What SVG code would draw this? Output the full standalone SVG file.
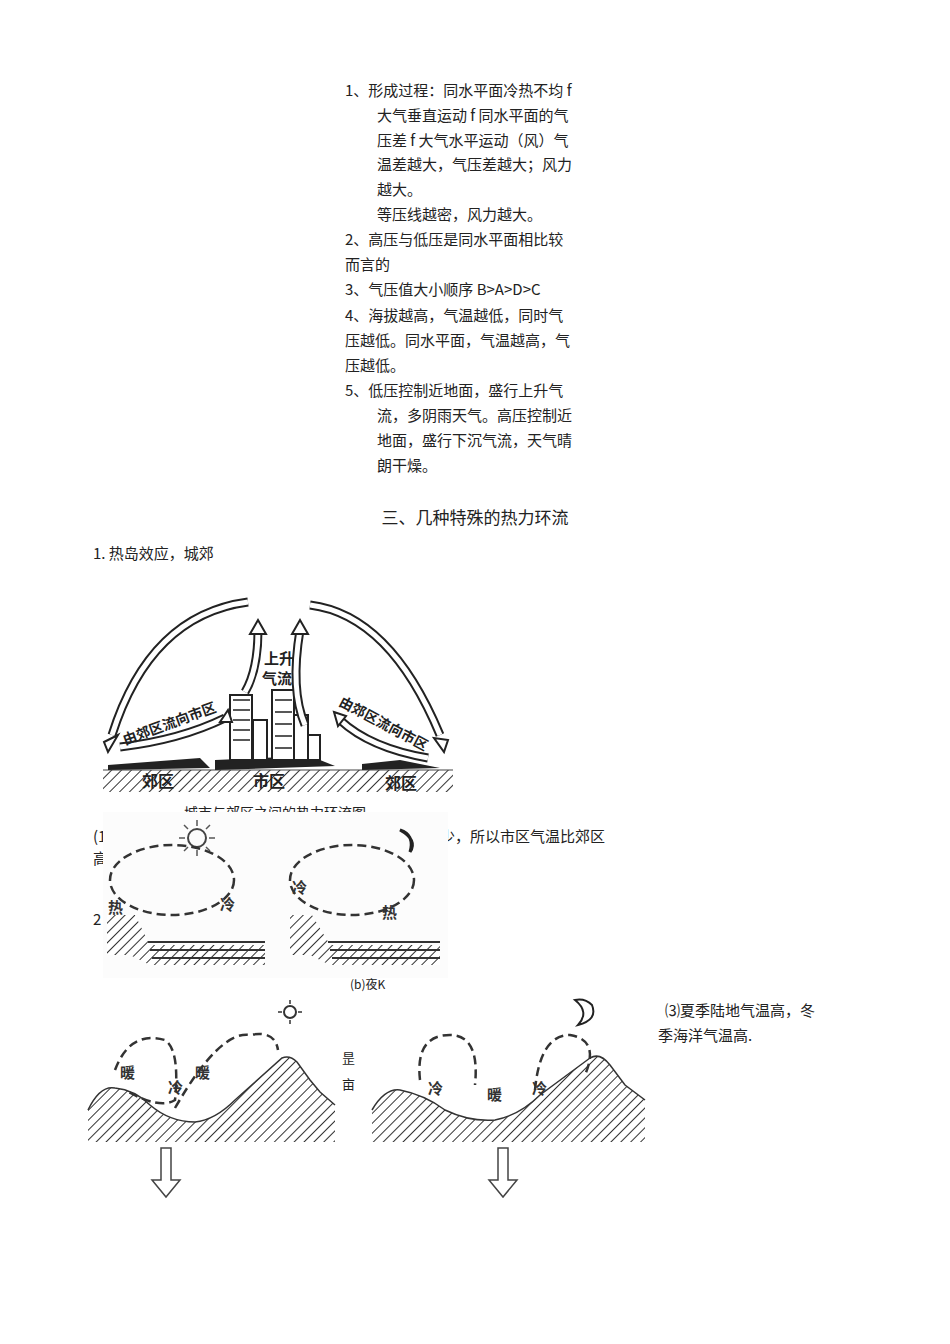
<svg xmlns="http://www.w3.org/2000/svg" width="950" height="1344" viewBox="0 0 950 1344">
<defs>
<style>
text{font-family:"Noto Sans CJK SC","Liberation Serif",serif;fill:#222}
.t{font-size:15px}
.lb{font-size:15px;font-weight:bold;fill:#333}
.ho{fill:none;stroke:#222;stroke-width:9;stroke-linecap:butt}
.hi{fill:none;stroke:#fff;stroke-width:5}
.d{fill:none;stroke:#333;stroke-width:2.5;stroke-dasharray:9 5}
.gnd{stroke:#444;stroke-width:1.2}
</style>
<pattern id="h" width="7" height="7" patternUnits="userSpaceOnUse" patternTransform="rotate(45)"><rect width="7" height="7" fill="#fff"/><line x1="0" y1="0" x2="0" y2="7" stroke="#333" stroke-width="2"/></pattern>
</defs>
<rect width="950" height="1344" fill="#fff"/>
<g id="text">
<text class="t" x="345" y="96">1、形成过程：同水平面冷热不均 f</text>
<text class="t" x="377" y="121">大气垂直运动 f 同水平面的气</text>
<text class="t" x="377" y="146">压差 f 大气水平运动（风）气</text>
<text class="t" x="377" y="170">温差越大，气压差越大；风力</text>
<text class="t" x="377" y="195">越大。</text>
<text class="t" x="377" y="220">等压线越密，风力越大。</text>
<text class="t" x="345" y="245">2、高压与低压是同水平面相比较</text>
<text class="t" x="345" y="270">而言的</text>
<text class="t" x="345" y="295">3、气压值大小顺序 B&gt;A&gt;D&gt;C</text>
<text class="t" x="345" y="321">4、海拔越高，气温越低，同时气</text>
<text class="t" x="345" y="346">压越低。同水平面，气温越高，气</text>
<text class="t" x="345" y="371">压越低。</text>
<text class="t" x="345" y="396">5、低压控制近地面，盛行上升气</text>
<text class="t" x="377" y="421">流，多阴雨天气。高压控制近</text>
<text class="t" x="377" y="446">地面，盛行下沉气流，天气晴</text>
<text class="t" x="377" y="471">朗干燥。</text>
<text x="475" y="524" text-anchor="middle" font-size="17">三、几种特殊的热力环流</text>
<text class="t" x="93" y="559">1. 热岛效应，城郊</text>
<text x="275" y="818" text-anchor="middle" font-size="14" fill="#555">城市与郊区之间的热力环流图</text>
<text class="t" x="93" y="842">(1</text>
<text class="t" x="93" y="864">高</text>
<text class="t" x="425" y="842">大少，所以市区气温比郊区</text>
<text class="t" x="93" y="925">2</text>
<text x="350" y="989" font-size="12" fill="#555">(b)夜K</text>
<text class="t" x="665" y="1016">⑶夏季陆地气温高，冬</text>
<text class="t" x="658" y="1041">季海洋气温高.</text>
<text x="342" y="1063" font-size="13">昰</text>
<text x="342" y="1089" font-size="13">亩</text>
</g>
<g id="heat-island">
<rect x="103" y="770" width="350" height="22" fill="url(#h)"/>
<line class="gnd" x1="103" y1="770" x2="453" y2="770"/>
<path d="M108,765 L200,758 L210,768 L108,770z M215,760 L310,756 L335,766 L215,770z M362,764 L400,760 L440,768 L362,770z" fill="#222"/>
<g fill="#fff" stroke="#222" stroke-width="2">
<rect x="230" y="695" width="22" height="65"/><rect x="253" y="720" width="14" height="40"/>
<rect x="272" y="690" width="22" height="70"/><rect x="294" y="715" width="14" height="45"/><rect x="308" y="735" width="12" height="25"/>
</g>
<path d="M233,700 H250 M233,710 H250 M233,720 H250 M233,730 H250 M233,740 H250 M275,700 H292 M275,712 H292 M275,724 H292 M275,736 H292 M275,748 H292" stroke="#222" stroke-width="1.5"/>
<g id="arrows">
<path class="ho" d="M112,735 Q150,615 248,602"/><path class="hi" d="M112,735 Q150,615 248,602"/>
<path class="ho" d="M310,605 Q390,615 440,735"/><path class="hi" d="M310,605 Q390,615 440,735"/>
<path class="ho" d="M120,747 Q180,740 225,718"/><path class="hi" d="M120,747 Q180,740 225,718"/>
<path class="ho" d="M428,758 Q370,748 340,720"/><path class="hi" d="M428,758 Q370,748 340,720"/>
<path class="ho" d="M245,692 Q258,670 258,630"/><path class="hi" d="M245,692 Q258,670 258,630"/>
<path class="ho" d="M305,725 Q290,690 300,630"/><path class="hi" d="M305,725 Q290,690 300,630"/>
<g fill="#fff" stroke="#222" stroke-width="2">
<path d="M104,742 L118,735 L108,752z"/><path d="M448,740 L434,738 L444,752z"/>
<path d="M228,710 L232,722 L220,722z"/><path d="M334,712 L346,716 L338,726z"/>
<path d="M258,620 L250,634 L266,634z"/><path d="M300,620 L292,634 L308,634z"/>
</g>
</g>
<text x="264" y="664" font-size="15" font-weight="bold">上升</text>
<text x="262" y="684" font-size="15" font-weight="bold">气流</text>
<text x="125" y="745" font-size="14" font-weight="bold" transform="rotate(-20 125 745)">由郊区流向市区</text>
<text x="338" y="705" font-size="14" font-weight="bold" transform="rotate(28 338 705)">由郊区流向市区</text>
<text x="142" y="787" font-size="16" font-weight="bold">郊区</text>
<text x="253" y="787" font-size="16" font-weight="bold">市区</text>
<text x="385" y="789" font-size="16" font-weight="bold">郊区</text>
</g>
<g id="sea-land">
<rect x="103" y="812" width="345" height="166" fill="#fcfcfc"/>
<circle cx="197" cy="838" r="9" fill="none" stroke="#444" stroke-width="2"/>
<path d="M197,820V826 M197,850V856 M179,838H185 M209,838H215 M184,825l4,4 M210,825l-4,4 M184,851l4,-4 M210,851l-4,-4" stroke="#555" stroke-width="1.5"/>
<path d="M400,830 Q415,835 410,852 Q418,840 400,830z" fill="#222" stroke="#222" stroke-width="3"/>
<path d="M107,915 L135,915 L150,945 L265,945 L265,965 L150,965 L130,955 L107,955z" fill="url(#h)"/>
<path d="M148,942 H265 M150,950 H265 M152,958 H265" stroke="#333" stroke-width="2"/>
<path d="M290,915 L312,915 L330,945 L440,945 L440,965 L330,965 L310,955 L290,955z" fill="url(#h)"/>
<path d="M328,942 H440 M330,950 H440 M332,958 H440" stroke="#333" stroke-width="2"/>
<ellipse class="d" cx="172" cy="880" rx="62" ry="35"/>
<ellipse class="d" cx="352" cy="880" rx="62" ry="35"/>
<text class="lb" x="108" y="913">热</text><text class="lb" x="220" y="910">冷</text>
<text class="lb" x="292" y="893">冷</text><text class="lb" x="382" y="918">热</text>
</g>
<g id="mountain-valley">
<path d="M88,1110 Q100,1085 115,1088 Q135,1090 150,1105 Q170,1122 195,1122 Q215,1120 235,1100 L282,1058 Q290,1055 297,1062 L310,1080 L320,1092 L335,1105 L335,1142 L88,1142z" fill="url(#h)"/>
<path d="M88,1110 Q100,1085 115,1088 Q135,1090 150,1105 Q170,1122 195,1122 Q215,1120 235,1100 L282,1058 Q290,1055 297,1062 L310,1080 L320,1092 L335,1105" fill="none" stroke="#333" stroke-width="1.5"/>
<path d="M372,1110 Q385,1088 400,1090 Q425,1095 445,1110 Q470,1122 495,1120 Q520,1115 540,1095 L590,1058 Q600,1052 610,1065 L625,1085 L645,1100 L645,1142 L372,1142z" fill="url(#h)"/>
<path d="M372,1110 Q385,1088 400,1090 Q425,1095 445,1110 Q470,1122 495,1120 Q520,1115 540,1095 L590,1058 Q600,1052 610,1065 L625,1085 L645,1100" fill="none" stroke="#333" stroke-width="1.5"/>
<g class="d">
<path d="M115,1070 Q130,1030 165,1040 Q180,1050 175,1100 Q160,1110 125,1090"/>
<path d="M175,1108 Q220,1030 250,1035 Q275,1030 278,1050"/>
<path d="M420,1080 Q415,1035 450,1035 Q480,1035 475,1085"/>
<path d="M535,1090 Q540,1035 570,1035 Q600,1040 585,1075"/>
</g>
<text class="lb" x="120" y="1078" font-size="17">暖</text><text class="lb" x="168" y="1093" font-size="16">冷</text><text class="lb" x="195" y="1078" font-size="17">暖</text>
<text class="lb" x="428" y="1094" font-size="16">冷</text><text class="lb" x="487" y="1100" font-size="17">暖</text><text class="lb" x="532" y="1094" font-size="16">冷</text>
<circle cx="290" cy="1012" r="6" fill="none" stroke="#333" stroke-width="2"/>
<path d="M290,1000V1004 M290,1020V1024 M278,1012H282 M298,1012H302" stroke="#333" stroke-width="1.5"/>
<path d="M575,1000 Q590,1012 578,1025 Q598,1020 592,1005 Q585,998 575,1000z" fill="#fff" stroke="#222" stroke-width="2"/>
<g fill="#fff" stroke="#444" stroke-width="1.5">
<path d="M161,1148 H171 V1180 H180 L166,1197 L152,1180 H161z"/>
<path d="M498,1148 H508 V1180 H517 L503,1197 L489,1180 H498z"/>
</g>
</g>
</svg>
